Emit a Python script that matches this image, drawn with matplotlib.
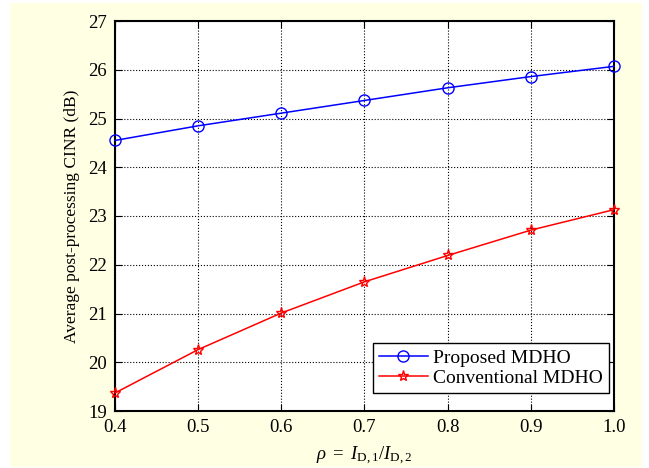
import matplotlib
matplotlib.use("Agg")
import matplotlib.pyplot as plt
from matplotlib.patches import Rectangle
from matplotlib.ticker import FormatStrFormatter

rho = [0.4, 0.5, 0.6, 0.7, 0.8, 0.9, 1.0]
proposed = [24.55, 24.85, 25.11, 25.37, 25.63, 25.86, 26.07]
conventional = [19.37, 20.26, 21.01, 21.65, 22.19, 22.71, 23.13]

plt.rcParams['font.family'] = ['Liberation Serif', 'DejaVu Serif']
plt.rcParams['mathtext.fontset'] = 'custom'
plt.rcParams['mathtext.rm'] = 'Liberation Serif'
plt.rcParams['mathtext.it'] = 'Liberation Serif:italic'

fig = plt.figure(figsize=(6.49, 4.68), dpi=100, facecolor='white')
fig.patches.append(Rectangle((10 / 649, 1 / 468), 632 / 649, 464 / 468,
                             transform=fig.transFigure, facecolor='#FFFFE4',
                             edgecolor='none', zorder=-10))
ax = fig.add_axes([115 / 649, 1 - 411 / 468, 499 / 649, 390 / 468])
ax.set_facecolor('white')

ax.plot(rho, proposed, color='blue', marker='o', mfc='none', mec='blue',
        markersize=8, lw=1.1, label='Proposed MDHO', clip_on=False, zorder=3)
ax.plot(rho, conventional, color='red', marker='*', mfc='none', mec='red',
        markersize=8, lw=1.1, label='Conventional MDHO', clip_on=False, zorder=3)

ax.set_xlim(0.4, 1.0)
ax.set_ylim(19, 27)
ax.set_xticks(rho)
ax.xaxis.set_major_formatter(FormatStrFormatter('%.1f'))
ax.set_yticks(range(19, 28))
ax.grid(True, color='black', linestyle=':', linewidth=0.8)
ax.tick_params(direction='in', top=True, right=True, labelsize=13.5, length=5, pad=6)
for s in ax.spines.values():
    s.set_linewidth(1.5)

ax.set_xlabel(r'$\rho\ =\ I_{\mathrm{D,1}}/I_{\mathrm{D,2}}$', fontsize=13.5, labelpad=6)
ax.set_ylabel('Average post-processing CINR (dB)', fontsize=12.5, labelpad=6)

leg = ax.legend(loc='lower right', bbox_to_anchor=(0.99, 0.046), fontsize=14,
                fancybox=False, framealpha=1, edgecolor='black', borderaxespad=0,
                handlelength=2.5, borderpad=0.3, labelspacing=0.15, handletextpad=0.3)
leg.get_frame().set_linewidth(1.0)

fig.savefig('out.png', dpi=100, facecolor=fig.get_facecolor())
